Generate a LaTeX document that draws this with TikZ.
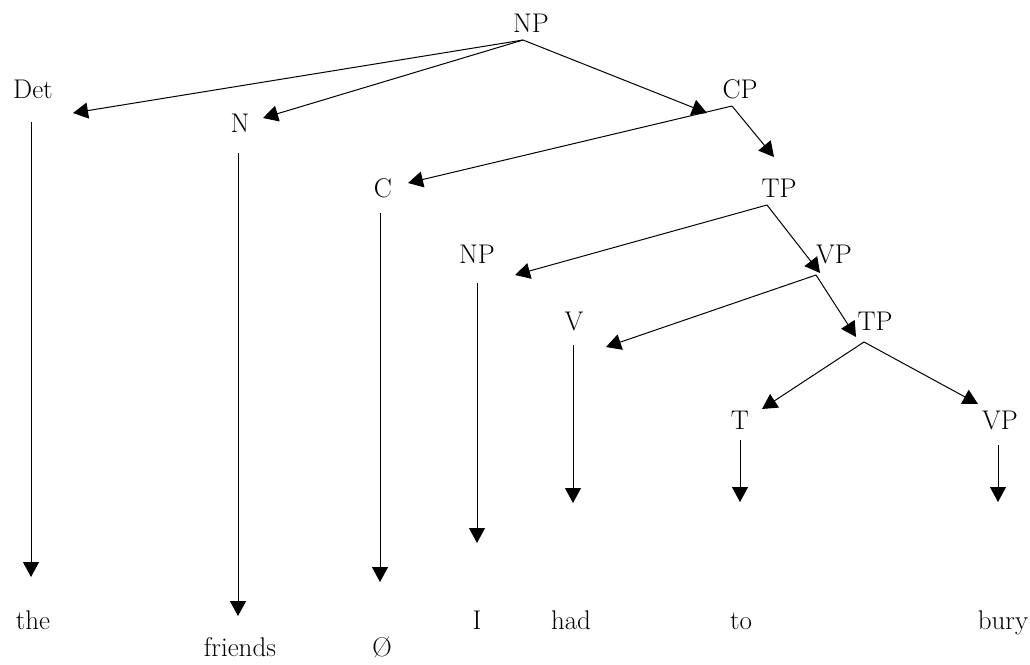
\documentclass[tikz,border=0pt]{standalone}
\usetikzlibrary{arrows.meta}
\tikzset{
  cat/.style={anchor=base,inner sep=0pt,font=\fontsize{27}{32}\selectfont},
  arr/.style={-{Triangle[length=15pt,width=16pt]},line width=1pt},
}
\begin{document}
\begin{tikzpicture}[x=1pt,y=-1pt]
  \useasboundingbox (0,0) rectangle (1030,664);

  % categories
  \node[cat] (np)  at (531,32)  {NP};
  \node[cat] (det) at (33,98)   {Det};
  \node[cat] (n)   at (240,132) {N};
  \node[cat] (cp)  at (740,98)  {CP};
  \node[cat] (c)   at (383,197) {C};
  \node[cat] (tp)  at (779,197) {TP};
  \node[cat] (np2) at (477,263) {NP};
  \node[cat] (vp)  at (834,263) {VP};
  \node[cat] (v)   at (574,330) {V};
  \node[cat] (tp2) at (875,330) {TP};
  \node[cat] (t)   at (740,429) {T};
  \node[cat] (vp2) at (1000,429) {VP};

  % words
  \node[cat] (the)     at (33,629)  {the};
  \node[cat] (friends) at (240,656) {friends};
  \node[cat] (zero)    at (382,656) {\O};
  \node[cat] (i)       at (477,629) {I};
  \node[cat] (had)     at (571,629) {had};
  \node[cat] (to)      at (741,629) {to};
  \node[cat] (bury)    at (1003,629) {bury};

  % branch points and arrow ends
  \coordinate (np-o)  at (523,40);
  \coordinate (cp-o)  at (732,106);
  \coordinate (tp-o)  at (767,205);
  \coordinate (vp-o)  at (816,275);
  \coordinate (tp2-o) at (864,342);
  \coordinate (det-i) at (73,113);
  \coordinate (n-i)   at (263,118);
  \coordinate (cp-i)  at (707,113);
  \coordinate (c-i)   at (408,183);
  \coordinate (tp-i)  at (774,157);
  \coordinate (np2-i) at (515,275);
  \coordinate (vp-i)  at (820,273);
  \coordinate (v-i)   at (606,347);
  \coordinate (tp2-i) at (856,337);
  \coordinate (t-i)   at (762,409);
  \coordinate (vp2-i) at (978,404);

  \draw[arr] (np-o) -- (det-i);
  \draw[arr] (np-o) -- (n-i);
  \draw[arr] (np-o) -- (cp-i);
  \draw[arr] (cp-o) -- (c-i);
  \draw[arr] (cp-o) -- (tp-i);
  \draw[arr] (tp-o) -- (np2-i);
  \draw[arr] (tp-o) -- (vp-i);
  \draw[arr] (vp-o) -- (v-i);
  \draw[arr] (vp-o) -- (tp2-i);
  \draw[arr] (tp2-o) -- (t-i);
  \draw[arr] (tp2-o) -- (vp2-i);

  % down to the words
  \draw[arr] (31,122)  -- (31,577);
  \draw[arr] (238,153) -- (238,616);
  \draw[arr] (380,213) -- (380,582);
  \draw[arr] (477,283) -- (477,543);
  \draw[arr] (573,345) -- (573,503);
  \draw[arr] (740,440) -- (740,502);
  \draw[arr] (998,445) -- (998,502);
\end{tikzpicture}
\end{document}
